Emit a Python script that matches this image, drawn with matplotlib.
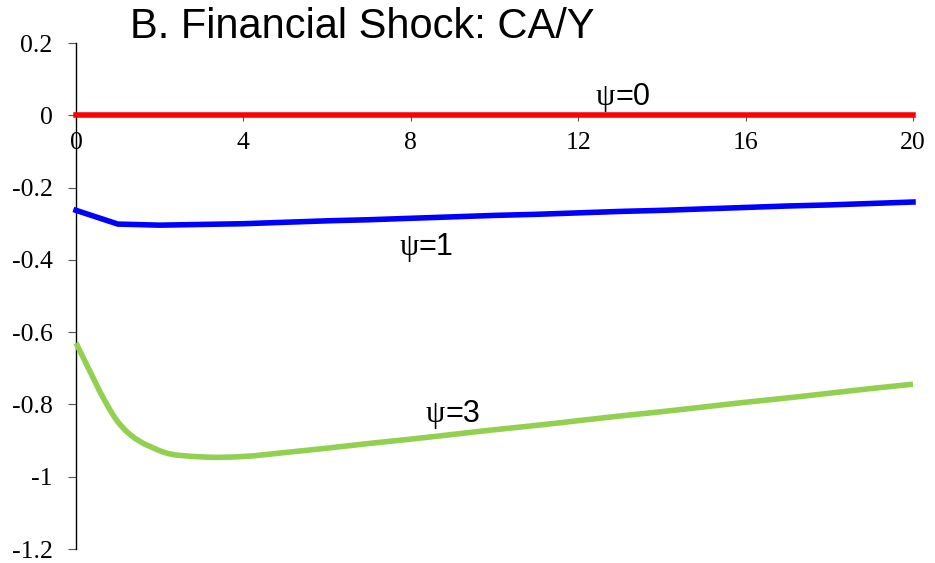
import matplotlib.pyplot as plt
import numpy as np
from matplotlib.path import Path
from matplotlib.patches import PathPatch

# quarters after the shock
quarters = np.arange(0, 21)

# CA/Y responses
psi0 = [0.0] * 21
psi1 = [-0.263, -0.301, -0.304, -0.302, -0.300, -0.296, -0.292, -0.289, -0.285, -0.281,
        -0.277, -0.274, -0.270, -0.266, -0.263, -0.259, -0.255, -0.251, -0.248, -0.244, -0.240]
psi3 = [-0.630, -0.848, -0.928, -0.945, -0.944, -0.933, -0.921, -0.908, -0.896, -0.883,
        -0.870, -0.858, -0.845, -0.832, -0.820, -0.807, -0.794, -0.782, -0.769, -0.756, -0.744]

xticks = [0, 4, 8, 12, 16, 20]
yticks = [0.2, 0, -0.2, -0.4, -0.6, -0.8, -1, -1.2]
ytick_labels = ["0.2", "0", "-0.2", "-0.4", "-0.6", "-0.8", "-1", "-1.2"]


def smooth_path(x, y):
    # excel style smoothed line: cubic bezier segments through every point
    x = np.asarray(x, float)
    y = np.asarray(y, float)
    n = len(x)
    verts = [(x[0], y[0])]
    codes = [Path.MOVETO]
    for i in range(n - 1):
        i0 = max(i - 1, 0)
        i3 = min(i + 2, n - 1)
        c1 = (x[i] + (x[i + 1] - x[i0]) / 6, y[i] + (y[i + 1] - y[i0]) / 6)
        c2 = (x[i + 1] - (x[i3] - x[i]) / 6, y[i + 1] - (y[i3] - y[i]) / 6)
        verts += [c1, c2, (x[i + 1], y[i + 1])]
        codes += [Path.CURVE4] * 3
    return Path(verts, codes)


fig = plt.figure(figsize=(9.35, 5.63), dpi=100)
ax = fig.add_axes([76 / 935, 1 - 549 / 563, (913 - 76) / 935, (549 - 43) / 563])

ax.plot(quarters, psi0, color="#FF0000", lw=4, clip_on=False, zorder=3)
ax.plot(quarters, psi1, color="#0000FF", lw=4, clip_on=False, zorder=3)
ax.add_patch(PathPatch(smooth_path(quarters, psi3), facecolor="none", edgecolor="#92D050",
                       lw=4, clip_on=False, zorder=3))

ax.set_xlim(0, 20)
ax.set_ylim(-1.2, 0.2)

for s in ["top", "right"]:
    ax.spines[s].set_visible(False)
ax.spines["bottom"].set_position(("data", 0))
ax.spines["left"].set_linewidth(1)
ax.spines["bottom"].set_linewidth(1)

ax.set_xticks(xticks)
ax.set_xticklabels([str(t) for t in xticks], fontfamily="Liberation Serif", fontsize=18.5)
ax.set_yticks(yticks)
ax.set_yticklabels(ytick_labels, fontfamily="Liberation Serif", fontsize=18.5)
ax.tick_params(axis="x", direction="out", length=4, color="#555555", pad=8)
ax.tick_params(axis="y", direction="out", length=6, color="#555555", pad=11)

# labels: psi in serif, "=n" in sans
labels = [(12.88, 0.028, "=0"), (8.18, -0.386, "=1"), (8.82, -0.849, "=3")]
for lx, ly, txt in labels:
    ax.text(lx, ly, "ψ", fontfamily="Liberation Serif", fontsize=22, ha="right", va="baseline")
    ax.text(lx, ly, txt, fontfamily="Liberation Sans", fontsize=22, ha="left", va="baseline")

fig.text(130 / 935, 1 - 38 / 563, "B. Financial Shock: CA/Y", fontfamily="Liberation Sans",
         fontsize=30, ha="left", va="baseline")

fig.savefig("out.png", dpi=100)
